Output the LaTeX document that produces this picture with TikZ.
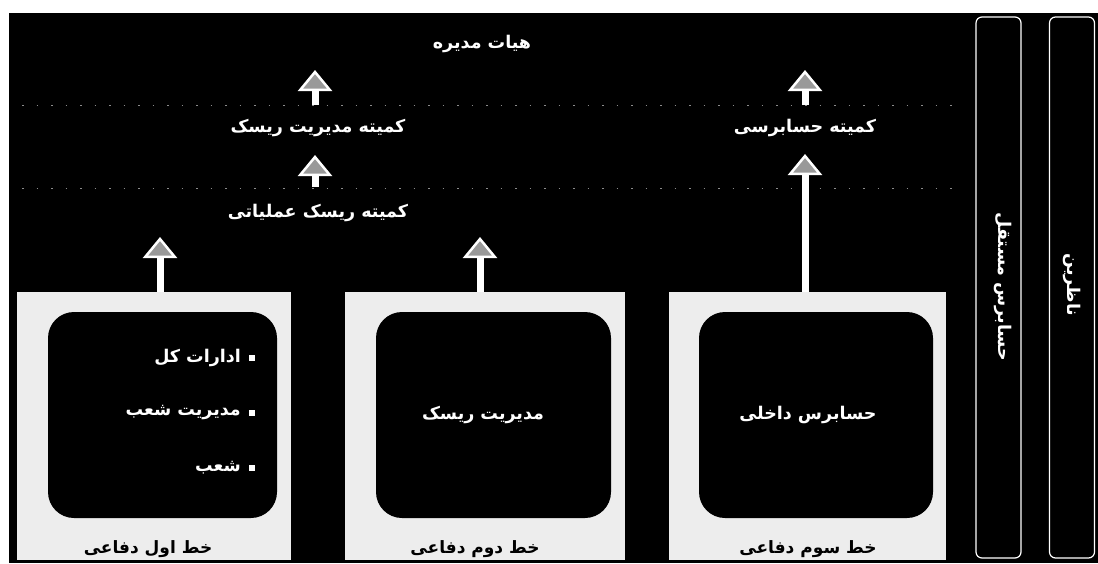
\documentclass[tikz,border=0pt]{standalone}
\usepackage{fontspec}
\newfontfamily\fa[Script=Arabic]{DejaVu Sans}
\TeXXeTstate=1
\usetikzlibrary{arrows.meta}
\newcommand{\ar}[1]{\beginR #1\endR}
\begin{document}
\begin{tikzpicture}[x=1pt,y=-1pt,
  ttl/.style={text=white, font=\fa\bfseries\fontsize{17.5}{20}\selectfont, inner sep=0pt},
  lbl/.style={text=black, font=\fa\bfseries\fontsize{17}{20}\selectfont, inner sep=0pt},
  outerbox/.style={fill=black!7, draw=none, inner sep=0pt, minimum width=#1},
  innerbox/.style={fill=black, draw=none, rounded corners=26pt, inner sep=0pt, minimum width=#1},
  uparr/.style={draw=white, line width=7pt,
     -{Triangle[width=34pt,length=21pt,line width=2.5pt,fill=black!40,color=white]}},
  sidebar/.style={draw=white, line width=1.2pt, rounded corners=6pt, fill=black, inner sep=0pt,
     minimum width=45pt, minimum height=541pt},
  bul/.style={fill=white, minimum size=6pt, inner sep=0pt},
  dots/.style={draw=black!45, line width=1pt, dash pattern=on 1.5pt off 13pt}
]
\useasboundingbox (0,0) rectangle (1098,563);
\fill[white] (0,0) rectangle (1098,563);
\fill[black] (9,13) rectangle (1098,563);

% faint dotted guide lines
\draw[dots] (22,105) -- (960,105);
\draw[dots] (22,188) -- (960,188);

% top texts
\node[ttl] (board) at (482,44) {\ar{هیات مدیره}};
\node[ttl] (rmc) at (318,128) {\ar{کمیته مدیریت ریسک}};
\node[ttl] (orc) at (318,213) {\ar{کمیته ریسک عملیاتی}};
\node[ttl] (ac) at (805,128) {\ar{کمیته حسابرسی}};

% boxes
\node[outerbox=274pt, minimum height=268pt] (o1) at (154,426) {};
\node[outerbox=280pt, minimum height=268pt] (o2) at (485,426) {};
\node[outerbox=277pt, minimum height=268pt] (o3) at (807.5,426) {};
\node[innerbox=229pt, minimum height=206pt] (i1) at (162.5,415) {};
\node[innerbox=235pt, minimum height=206pt] (i2) at (493.5,415) {};
\node[innerbox=234pt, minimum height=206pt] (i3) at (816,415) {};

% inner texts
\node[ttl, anchor=east] (t1a) at (241,358) {\ar{ادارات کل}};
\node[ttl, anchor=east] (t1b) at (241,413) {\ar{مدیریت شعب}};
\node[ttl, anchor=east] (t1c) at (241,468) {\ar{شعب}};
\node[bul] (b1a) at (252,358) {};
\node[bul] (b1b) at (252,413) {};
\node[bul] (b1c) at (252,468) {};
\node[ttl] (t2) at (483,415) {\ar{مدیریت ریسک}};
\node[ttl] (t3) at (808,415) {\ar{حسابرس داخلی}};

% labels
\node[lbl] (l1) at (148,549) {\ar{خط اول دفاعی}};
\node[lbl] (l2) at (475,549) {\ar{خط دوم دفاعی}};
\node[lbl] (l3) at (808,549) {\ar{خط سوم دفاعی}};

% arrows
\coordinate (a1s) at (160,292); \coordinate (a1e) at (160,237);
\coordinate (a2s) at (480,292); \coordinate (a2e) at (480,237);
\coordinate (a3s) at (805,292); \coordinate (a3e) at (805,154);
\coordinate (a4s) at (315,187); \coordinate (a4e) at (315,155);
\coordinate (a5s) at (315,105); \coordinate (a5e) at (315,70);
\coordinate (a6s) at (805,105); \coordinate (a6e) at (805,70);
\draw[uparr] (a1s) -- (a1e);
\draw[uparr] (a2s) -- (a2e);
\draw[uparr] (a3s) -- (a3e);
\draw[uparr] (a4s) -- (a4e);
\draw[uparr] (a5s) -- (a5e);
\draw[uparr] (a6s) -- (a6e);

% side bars
\node[sidebar] (s1) at (998.5,287.5) {};
\node[sidebar] (s2) at (1072,287.5) {};
\node[ttl, rotate=-90] (s1t) at (1003,287) {\ar{حسابرس مستقل}};
\node[ttl, rotate=-90] (s2t) at (1072,285) {\ar{ناظرین}};
\end{tikzpicture}
\end{document}
